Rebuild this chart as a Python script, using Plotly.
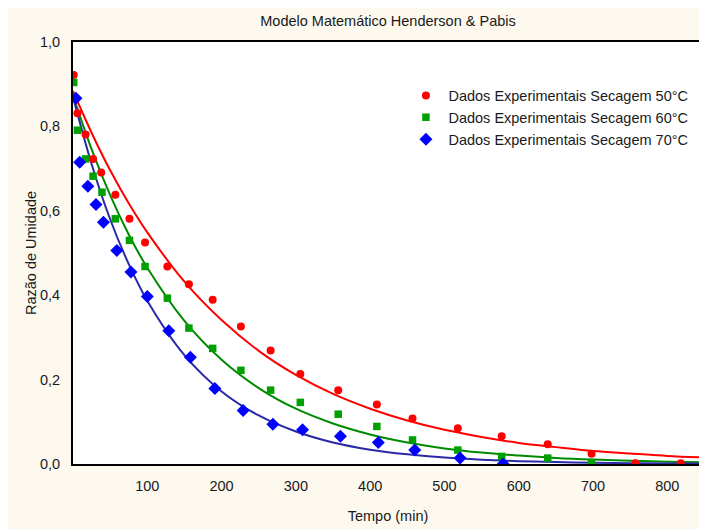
import plotly.graph_objects as go

# -- experimental points (time in min, moisture ratio)
t_50 = [1, 6, 17, 27, 38, 57, 76, 97, 127, 156, 188, 226, 266, 306, 357, 409, 457, 518, 577, 639, 698, 757, 818]
mr_50 = [0.922, 0.831, 0.781, 0.723, 0.691, 0.638, 0.581, 0.525, 0.468, 0.426, 0.389, 0.326, 0.269,
         0.213, 0.175, 0.141, 0.108, 0.085, 0.066, 0.047, 0.024, 0.002, 0.002]

t_60 = [1, 6, 17, 27, 39, 57, 76, 97, 127, 156, 188, 226, 266, 306, 357, 409, 457, 518, 577, 639, 698]
mr_60 = [0.904, 0.791, 0.723, 0.682, 0.644, 0.581, 0.530, 0.468, 0.393, 0.322, 0.274, 0.222, 0.175,
         0.146, 0.118, 0.089, 0.057, 0.033, 0.018, 0.014, 0.002]

t_70 = [4, 9, 20, 31, 41, 59, 78, 100, 129, 158, 191, 229, 269, 309, 360, 411, 460, 521, 579]
mr_70 = [0.867, 0.715, 0.658, 0.615, 0.573, 0.506, 0.455, 0.397, 0.316, 0.253, 0.179, 0.127, 0.094,
         0.081, 0.066, 0.051, 0.033, 0.014, 0.0]

# -- fitted Henderson & Pabis curves
t_fit = [0, 25, 50, 75, 100, 150, 200, 250, 300, 350, 400, 450, 500, 550, 600, 650, 700, 750, 800, 848]
fit_50 = [0.884, 0.785, 0.696, 0.618, 0.549, 0.432, 0.341, 0.268, 0.211, 0.166, 0.131, 0.103, 0.081,
          0.064, 0.050, 0.040, 0.031, 0.025, 0.019, 0.0155]
fit_60 = [0.873, 0.746, 0.637, 0.544, 0.465, 0.339, 0.247, 0.180, 0.131, 0.096, 0.070, 0.051, 0.037,
          0.027, 0.020, 0.0144, 0.0105, 0.0077, 0.0056, 0.0041]
fit_70 = [0.870, 0.711, 0.580, 0.474, 0.387, 0.258, 0.172, 0.115, 0.077, 0.051, 0.034, 0.023, 0.0152,
          0.0101, 0.0067, 0.0045, 0.0030, 0.0020, 0.0013, 0.0009]

x_ticks = [100, 200, 300, 400, 500, 600, 700, 800]
y_ticks = [0.0, 0.2, 0.4, 0.6, 0.8, 1.0]

FONT = "Liberation Sans, Arial, sans-serif"
CREAM = "#fdf9ef"
TXT = "#1a1a1a"

fig = go.Figure()

# fitted lines first so the points sit on top
fig.add_trace(go.Scatter(x=t_fit, y=fit_50, mode="lines", line=dict(color="#ff0000", width=2, shape="spline"),
                         showlegend=False, hoverinfo="skip"))
fig.add_trace(go.Scatter(x=t_fit, y=fit_60, mode="lines", line=dict(color="#008a00", width=2, shape="spline"),
                         showlegend=False, hoverinfo="skip"))
fig.add_trace(go.Scatter(x=t_fit, y=fit_70, mode="lines", line=dict(color="#2a2aa6", width=2, shape="spline"),
                         showlegend=False, hoverinfo="skip"))

fig.add_trace(go.Scatter(x=t_50, y=mr_50, mode="markers", name="Dados Experimentais Secagem 50°C",
                         marker=dict(symbol="circle", size=8, color="#ff0000")))
fig.add_trace(go.Scatter(x=t_60, y=mr_60, mode="markers", name="Dados Experimentais Secagem 60°C",
                         marker=dict(symbol="square", size=7.5, color="#00a000")))
fig.add_trace(go.Scatter(x=t_70, y=mr_70, mode="markers", name="Dados Experimentais Secagem 70°C",
                         marker=dict(symbol="diamond", size=10, color="#0000ff")))

# the page body keeps its default 8px margin, so the figure is 8px smaller
fig.update_layout(
    width=699,
    height=521,
    margin=dict(l=65, r=2, t=34, b=65, pad=0),
    paper_bgcolor=CREAM,
    plot_bgcolor="white",
    separators=",.",
    font=dict(family=FONT, size=14.5, color=TXT),
    title=dict(text="Modelo Matemático Henderson & Pabis", x=0.5, xref="paper", xanchor="center",
               y=0.975, yanchor="middle", font=dict(size=14.5, color=TXT)),
    legend=dict(x=0.5245, y=0.911, xanchor="left", yanchor="top", bgcolor="rgba(0,0,0,0)",
                font=dict(size=14.5, color=TXT), itemwidth=35, tracegroupgap=0),
    showlegend=True,
)

fig.update_xaxes(
    range=[0, 848], tickvals=x_ticks, ticks="", showgrid=False, zeroline=False,
    showline=True, linecolor="black", linewidth=2, mirror=True, ticklabelstandoff=8,
    tickfont=dict(size=14.5), title=dict(text="Tempo (min)", standoff=17, font=dict(size=14.5)),
)
fig.update_yaxes(
    range=[0, 1.0], tickvals=y_ticks, tickformat=".1f", ticks="", showgrid=False, zeroline=False,
    showline=True, linecolor="black", linewidth=2, mirror=True, ticklabelstandoff=8,
    tickfont=dict(size=14.5), title=dict(text="Razão de Umidade", standoff=0, font=dict(size=14.5)),
)

fig.write_html("out.html")
